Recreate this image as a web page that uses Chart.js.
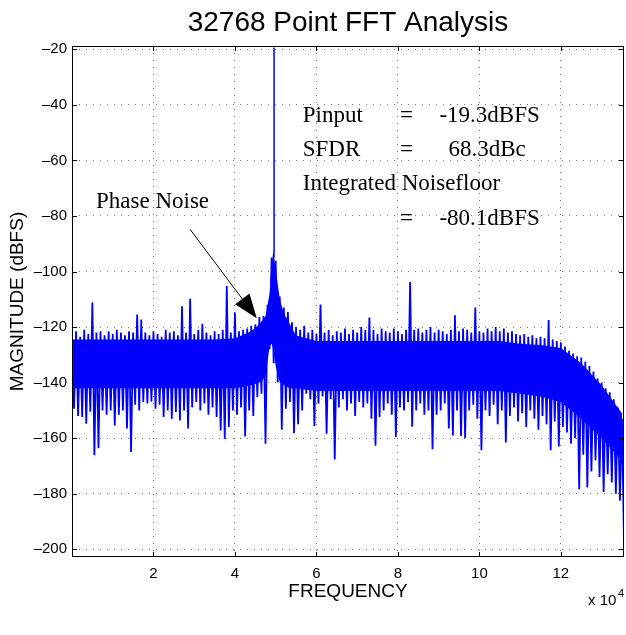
<!DOCTYPE html>
<html>
<head>
<meta charset="utf-8">
<script src="https://cdn.jsdelivr.net/npm/chart.js@4.4.0/dist/chart.umd.min.js"></script>
<style>
  html, body { margin: 0; padding: 0; background: #fff; }
  canvas { display: block; }
</style>
</head>
<body>
<canvas id="fftChart" width="626" height="635"></canvas>
<script>
// spectrum, one bin every 1000 (x axis units)
const binHz = 1000;
// upper excursion of each bin (dBFS), spurs included
const noiseTop = [
  -122.5, -121.5, -123.5, -121, -122.5, -111.2, -122, -121.5, -123, -121.5,
  -122.5, -121, -122, -123, -121.5, -122, -115.5, -117.3, -122, -123,
  -121.5, -122.5, -123.5, -121, -122, -121.5, -123, -112.5, -122, -109.8,
  -122.5, -121, -118.8, -122, -123, -121.5, -122.5, -121, -105.2, -122,
  -114.8, -121.5, -121, -120.5, -119.5, -119, -116.4, -116, -112, -95,
  -96, -109, -113, -114.6, -118.3, -120, -121, -119.5, -122, -121,
  -122.5, -111.9, -122, -121, -123, -121.5, -122, -120.5, -122.5, -121,
  -122, -120, -121, -116.6, -121, -122.5, -120.5, -121.5, -122, -120.5,
  -121.5, -122.5, -121, -103.8, -121, -120.5, -122, -121, -120, -122,
  -121, -121.5, -122.5, -121, -115.8, -121.5, -120.5, -121, -122, -113,
  -121.5, -122, -120.5, -121.5, -120, -121.5, -120.5, -122, -121.5, -122.5,
  -123, -122.5, -123.5, -123, -124, -123.5, -124, -117.5, -124.5, -125,
  -125.5, -127, -128.5, -129.5, -130.5, -131, -132.5, -134, -136, -138.5,
  -140, -142, -143.5, -146, -149, -153
];
// lower excursion, half a bin to the right of each top
const noiseBottom = [
  -149.4, -152, -152.4, -154.8, -150.5, -166.2, -163.6, -150, -151.6, -150,
  -155.4, -151.6, -150, -156.5, -165, -148, -150, -147, -147.5, -146.9,
  -149.4, -148, -152.4, -150, -153, -150.6, -153.6, -150, -156.5, -149,
  -147, -150, -147.5, -151.6, -149, -152.4, -157.2, -160.3, -156, -150,
  -151.6, -149, -159.4, -150, -152, -145.2, -144, -162, -128, -133,
  -140, -157, -149.4, -147, -158.2, -155, -150, -144, -146, -155.6,
  -147.5, -145, -158.4, -146, -167.7, -149, -146, -150, -147.5, -152,
  -147, -149, -147.5, -153, -162.7, -152.4, -150, -147.5, -151.6, -159.6,
  -149, -150, -147, -155.9, -150, -147.5, -151.6, -150, -164, -151.6,
  -150, -147.5, -156.5, -159, -150, -159.2, -160, -150, -148, -153,
  -164.4, -150, -152, -148, -155, -150, -161.6, -152, -149, -154,
  -151, -156, -150, -153, -157, -152, -155, -164.4, -154, -163,
  -156, -158, -162, -160, -178.4, -166, -177.8, -172, -168, -174,
  -179.4, -173, -176, -180, -182.5, -197
];
// solid core of the noise band (and the phase-noise skirt)
const coreHz = [0, 5000, 10000, 15000, 20000, 25000, 30000, 35000, 40000, 44000,
  46000, 47500, 48500, 49000, 49400, 50000, 51000, 52000, 53500, 55000,
  60000, 65000, 70000, 75000, 80000, 85000, 90000, 95000, 100000, 105000,
  110000, 115000, 120000, 125000, 130000, 135000];
const coreTop = [-124.5, -124.5, -124.5, -124.5, -124.5, -124.5, -124.5, -124.5, -124, -121.5,
  -119, -116, -108, -98, -92.5, -99, -110, -115, -119, -123,
  -125, -125, -125, -125, -125, -125, -125, -125, -125, -125,
  -126, -126.5, -127.5, -133, -141, -151];
const coreBottom = [-142, -142, -142, -142, -142, -142, -142, -142, -142, -141,
  -140, -138, -127, -126, -128, -134, -140, -141, -142, -142,
  -143, -143, -143, -143, -143, -143, -143, -143, -143, -143,
  -144, -145, -147, -153, -160, -168];
// fundamental tone
const carrierHz = 49600;
const carrierLevel = -19.3;
const carrierBase = -95;

const xTicks = [20000, 40000, 60000, 80000, 100000, 120000];
const yTicks = [-20, -40, -60, -80, -100, -120, -140, -160, -180, -200];

let noisePoints = [];
noiseTop.forEach((top, i) => {
    noisePoints.push({x: i * binHz, y: top});
    noisePoints.push({x: i * binHz + binHz / 2, y: noiseBottom[i]});
});
const coreTopPoints = coreHz.map((f, i) => ({x: f, y: coreTop[i]}));
const coreBottomPoints = coreHz.map((f, i) => ({x: f, y: coreBottom[i]}));

const sansFont = '"Liberation Sans", Arial, Helvetica, sans-serif';
const serifFont = '"Liberation Serif", "Times New Roman", serif';

// notes on the plot, placed in data units
const notes = [
    {text: 'Pinput', x: 56640, y: -46.3},
    {text: '=', x: 80530, y: -46.3},
    {text: '-19.3dBFS', x: 90180, y: -46.3},
    {text: 'SFDR', x: 56640, y: -58.3},
    {text: '=', x: 80530, y: -58.3},
    {text: '68.3dBc', x: 92390, y: -58.3},
    {text: 'Integrated Noisefloor', x: 56640, y: -70.7},
    {text: '=', x: 80530, y: -83.3},
    {text: '-80.1dBFS', x: 90180, y: -83.3},
    {text: 'Phase Noise', x: 5890, y: -77.3}
];
const arrowFrom = {x: 28970, y: -84.8};
const arrowTo = {x: 45350, y: -116.8};

const decorations = {
    id: 'decorations',
    afterDraw(chart) {
        const ctx = chart.ctx;
        const a = chart.chartArea;
        const xs = chart.scales.x, ys = chart.scales.y;
        ctx.save();
        // box
        ctx.strokeStyle = '#000';
        ctx.lineWidth = 1;
        ctx.strokeRect(a.left + 0.5, a.top + 0.5, a.right - a.left - 1, a.bottom - a.top - 1);
        // inward tick marks
        ctx.beginPath();
        xTicks.forEach(v => {
            const px = Math.round(xs.getPixelForValue(v)) + 0.5;
            ctx.moveTo(px, a.bottom); ctx.lineTo(px, a.bottom - 5);
            ctx.moveTo(px, a.top); ctx.lineTo(px, a.top + 5);
        });
        yTicks.forEach(v => {
            const py = Math.round(ys.getPixelForValue(v)) + 0.5;
            ctx.moveTo(a.left, py); ctx.lineTo(a.left + 5, py);
            ctx.moveTo(a.right, py); ctx.lineTo(a.right - 5, py);
        });
        ctx.stroke();

        // annotations
        ctx.fillStyle = '#000';
        ctx.font = '23px ' + serifFont;
        ctx.textAlign = 'left';
        ctx.textBaseline = 'alphabetic';
        notes.forEach(n => {
            ctx.fillText(n.text, xs.getPixelForValue(n.x), ys.getPixelForValue(n.y));
        });

        // arrow
        const x1 = xs.getPixelForValue(arrowFrom.x), y1 = ys.getPixelForValue(arrowFrom.y);
        const x2 = xs.getPixelForValue(arrowTo.x), y2 = ys.getPixelForValue(arrowTo.y);
        const ang = Math.atan2(y2 - y1, x2 - x1);
        const headLen = 24, headW = 9;
        const bx = x2 - headLen * Math.cos(ang), by = y2 - headLen * Math.sin(ang);
        ctx.beginPath();
        ctx.moveTo(x1, y1); ctx.lineTo(bx, by);
        ctx.lineWidth = 1;
        ctx.stroke();
        ctx.beginPath();
        ctx.moveTo(x2, y2);
        ctx.lineTo(bx + headW * Math.sin(ang), by - headW * Math.cos(ang));
        ctx.lineTo(bx - headW * Math.sin(ang), by + headW * Math.cos(ang));
        ctx.closePath();
        ctx.fill();

        // titles
        ctx.font = '28px ' + sansFont;
        ctx.textAlign = 'center';
        ctx.fillText('32768 Point FFT Analysis', (a.left + a.right) / 2, 31);
        ctx.font = '19px ' + sansFont;
        ctx.textBaseline = 'middle';
        ctx.fillText('FREQUENCY', (a.left + a.right) / 2, 592);
        ctx.save();
        ctx.translate(18, (a.top + a.bottom) / 2);
        ctx.rotate(-Math.PI / 2);
        ctx.fillText('MAGNITUDE (dBFS)', 0, 0);
        ctx.restore();
        // exponent
        ctx.textAlign = 'left';
        ctx.textBaseline = 'alphabetic';
        ctx.font = '15px ' + sansFont;
        ctx.fillText('x 10', 588, 605);
        ctx.font = '11px ' + sansFont;
        ctx.fillText('4', 618, 597);
        ctx.restore();
    }
};

const gridStyle = {color: 'rgba(0,0,0,0.55)', lineWidth: 1, drawTicks: false};

const config = {
    type: 'line',
    data: {
        datasets: [{
            data: noisePoints,
            borderColor: '#0000ff',
            borderWidth: 1.8,
            pointRadius: 0,
            tension: 0
        }, {
            data: [{x: carrierHz, y: carrierBase}, {x: carrierHz, y: carrierLevel}],
            borderColor: '#0000ff',
            borderWidth: 1.5,
            pointRadius: 0
        }, {
            data: coreTopPoints,
            borderWidth: 0,
            borderColor: '#0000ff',
            pointRadius: 0,
            fill: false
        }, {
            data: coreBottomPoints,
            borderWidth: 0,
            borderColor: '#0000ff',
            backgroundColor: '#0000ff',
            pointRadius: 0,
            fill: '-1'
        }]
    },
    options: {
        responsive: false,
        animation: false,
        layout: {padding: {top: 46, right: 2, left: 0, bottom: 0}},
        plugins: {legend: {display: false}, tooltip: {enabled: false}, title: {display: false}},
        scales: {
            x: {
                type: 'linear',
                min: 0,
                max: 135500,
                grid: gridStyle,
                border: {display: false, dash: [1, 6]},
                afterBuildTicks: s => { s.ticks = xTicks.map(v => ({value: v})); },
                afterFit: s => { s.height = 78; },
                ticks: {
                    color: '#000',
                    padding: 8,
                    maxRotation: 0,
                    font: {family: sansFont, size: 15},
                    callback: v => String(v / 10000)
                }
            },
            y: {
                type: 'linear',
                min: -202.8,
                max: -18.8,
                grid: gridStyle,
                border: {display: false, dash: [1, 6]},
                afterBuildTicks: s => { s.ticks = yTicks.map(v => ({value: v})); },
                afterFit: s => { s.width = 72; },
                ticks: {
                    color: '#000',
                    padding: 5,
                    font: {family: sansFont, size: 15},
                    callback: v => '\u2013' + Math.abs(v)
                }
            }
        }
    },
    plugins: [decorations]
};

new Chart(document.getElementById('fftChart'), config);
</script>
</body>
</html>
